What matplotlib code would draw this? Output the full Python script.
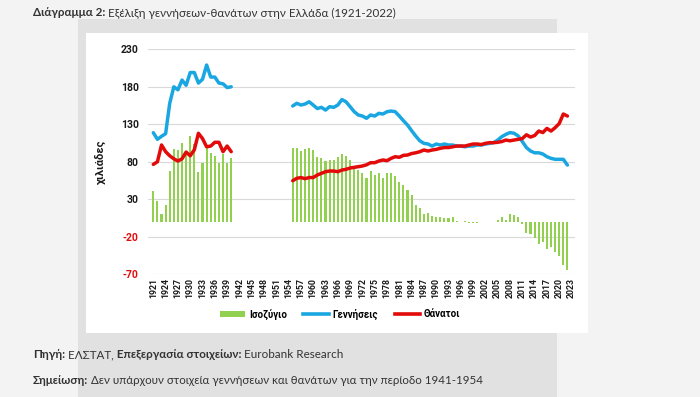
import numpy as np
import pandas as pd
import matplotlib
matplotlib.use('Agg')
import matplotlib.pyplot as plt
from matplotlib.patches import Rectangle, Patch
from matplotlib.lines import Line2D

# ---------------- data (thousands) ----------------
categories = list(range(1921, 2024))

years_1 = list(range(1921, 1941))
births_1 = [118.8, 110, 114, 117.5, 158, 180, 176, 189, 182, 199,
            199, 185, 190, 209, 193, 193, 185, 184, 179, 180]
deaths_1 = [76.6, 80, 102.4, 93.5, 88, 84, 81, 84, 93, 88,
            96, 118, 111, 100, 101, 106, 106, 93.5, 101, 93.5]
balance_1 = [41.5, 28, 11, 23, 68, 97, 96, 105.5, 90, 114,
             104, 67, 78, 100, 92, 88, 78, 91, 78, 85]

years_2 = list(range(1955, 2023))
births_2 = [154.4, 158, 155.7, 157, 160, 155.7, 151, 152.6, 149, 153.5,
            152.6, 155.7, 163, 160, 153.5, 146.8, 142.4, 141, 138, 142.4,
            141, 144.6, 143.7, 146.8, 147.7, 146.8, 141, 134.8, 129, 121.5,
            114.4, 108, 104.6,
            103.7, 101, 103.7, 102.4, 103.7, 102.4, 102.4, 101, 101, 100,
            101, 101, 102.4, 102.4, 103.7, 104.6, 105.5, 109, 113.5, 116.6,
            119, 118, 114.4, 107, 99, 94.4, 92, 92, 90.4, 86.8,
            84.6, 83.3, 83.3, 83.3, 75.7]
deaths_2 = [54.8, 58, 59, 57.5, 59, 59, 62.4, 64.6, 66.8, 67.7,
            67.7, 66.8, 69, 70, 71.7, 72.6, 73.5, 74.4, 76, 78.8,
            78.8, 81, 82.4, 81.5, 84.6, 86.8, 86, 88.6, 89, 91,
            92, 93.5, 95.7,
            94.4, 95.7, 96.6, 98, 99, 99, 100, 101, 101, 101,
            102.4, 103.7, 103.7, 103, 104.6, 105.5, 105.5, 106, 107, 109,
            108, 109, 110, 111, 116, 113, 115, 121, 119, 124.5,
            121, 125.5, 131, 143.7, 141]
balance_2 = [99, 98, 94, 96.6, 99, 95.7, 86.8, 84.6, 81, 83,
             83, 86, 90.4, 87.7, 82.4, 71, 69, 64.6, 59, 67.7,
             62.4, 64.6, 59, 64.6, 65.5, 61, 53.5, 49, 42.4, 35.7,
             22.4, 18,
             10, 12, 8, 7, 6, 5.5, 4.6, 6, 1.5, 0,
             1.5, -1, -2, -2, 0, 0, -0.5, 0, 2.4, 7,
             3, 10, 9, 6, -3, -15, -16, -21, -30, -27,
             -35.7, -33, -40, -45.6, -57.6, -64]

y_ticks = [-70, -20, 30, 80, 130, 180, 230]

GREEN = '#92D050'
BLUE = '#1AA7E1'
RED = '#E30A0A'
TXT = '#333333'
FONT = ['Lato', 'DejaVu Sans']
CFONT = ['Roboto', 'DejaVu Sans']

# ---------------- figure ----------------
W, H = 700, 397
fig = plt.figure(figsize=(7, 3.97), dpi=100, facecolor='#f3f3f3')


def fx(x):
    return x / W


def fy(y):
    return 1 - y / H


fig.patches.append(Rectangle((fx(78), fy(397)), fx(557) - fx(78), fy(19) - fy(397),
                             transform=fig.transFigure, facecolor='#e1e1e1',
                             edgecolor='none', zorder=0))
fig.patches.append(Rectangle((fx(86), fy(333)), fx(588) - fx(86), fy(33) - fy(333),
                             transform=fig.transFigure, facecolor='white',
                             edgecolor='none', zorder=0.5))

ax = fig.add_axes([fx(148.4), fy(274.3), fx(574.8) - fx(148.4), fy(49.3) - fy(274.3)])
ax.set_zorder(2)
ax.set_facecolor('none')

pos = {y: i for i, y in enumerate(categories)}

bal = pd.concat([pd.Series(balance_1, index=years_1), pd.Series(balance_2, index=years_2)])
bir = pd.concat([pd.Series(births_1, index=years_1), pd.Series(births_2, index=years_2)]).reindex(categories)
dea = pd.concat([pd.Series(deaths_1, index=years_1), pd.Series(deaths_2, index=years_2)]).reindex(categories)

ax.bar([pos[y] for y in bal.index], bal.values, width=0.5, color=GREEN, zorder=2)
ax.plot(range(len(categories)), bir.values, color=BLUE, lw=2.5, zorder=3,
        solid_capstyle='round', solid_joinstyle='round')
ax.plot(range(len(categories)), dea.values, color=RED, lw=2.5, zorder=4,
        solid_capstyle='round', solid_joinstyle='round')

ax.set_xlim(-1.2, 102.8)
ax.set_ylim(-70, 230)
ax.set_yticks(y_ticks)
ax.set_yticklabels([str(v) for v in y_ticks], fontsize=7.5, fontweight='bold', family=CFONT)
for lab, v in zip(ax.get_yticklabels(), y_ticks):
    lab.set_color(RED if v < 0 else '#1a1a1a')
ax.yaxis.grid(True, color='#d9d9d9', lw=0.8)
ax.set_axisbelow(True)
xt = list(range(0, len(categories), 3))
ax.set_xticks(xt)
ax.set_xticklabels([str(categories[i]) for i in xt], rotation=90, fontsize=6.3,
                   fontweight='bold', family=CFONT, color='#1a1a1a')
ax.tick_params(axis='both', length=0)
ax.tick_params(axis='y', pad=7)
ax.tick_params(axis='x', pad=3)
for s in ax.spines.values():
    s.set_visible(False)

ax.set_ylabel('χιλιάδες', fontsize=8, fontweight='bold', family=CFONT, color='#1a1a1a')
ax.yaxis.set_label_coords((106 - 148.4) / (574.8 - 148.4), 0.5)

handles = [Patch(facecolor=GREEN, edgecolor='none'),
           Line2D([], [], color=BLUE, lw=2.6),
           Line2D([], [], color=RED, lw=2.6)]
leg = fig.legend(handles, ['Ισοζύγιο', 'Γεννήσεις', 'Θάνατοι'], loc='center',
                 bbox_to_anchor=(fx(340), fy(314)), ncol=3, frameon=False,
                 prop={'family': CFONT, 'weight': 'bold', 'size': 7},
                 handlelength=2.6, handleheight=0.6, handletextpad=0.4, columnspacing=1.7)
leg.set_zorder(3)

# ---------------- rich texts ----------------
renderer = fig.canvas.get_renderer()


def rich(x, y, parts, size, color=TXT):
    cx = x
    for txt, weight in parts:
        t = fig.text(fx(cx), fy(y), txt, fontsize=size, fontweight=weight,
                     color=color, family=FONT, va='center', ha='left', zorder=5)
        bb = t.get_window_extent(renderer=renderer)
        cx += bb.width


rich(33, 13, [('Διάγραμμα 2:', 'bold'),
              (' Εξέλιξη γεννήσεων-θανάτων στην Ελλάδα (1921-2022)', 'normal')], 8.4)
rich(33, 355, [('Πηγή:', 'bold'), (' ΕΛΣΤΑΤ,', 'normal'), (' Επεξεργασία στοιχείων:', 'bold'),
               (' Eurobank Research', 'normal')], 8.4)
rich(33, 381, [('Σημείωση:', 'bold'),
               (' Δεν υπάρχουν στοιχεία γεννήσεων και θανάτων για την περίοδο 1941-1954', 'normal')], 8.3)

fig.savefig('out.png', dpi=100, facecolor=fig.get_facecolor())
